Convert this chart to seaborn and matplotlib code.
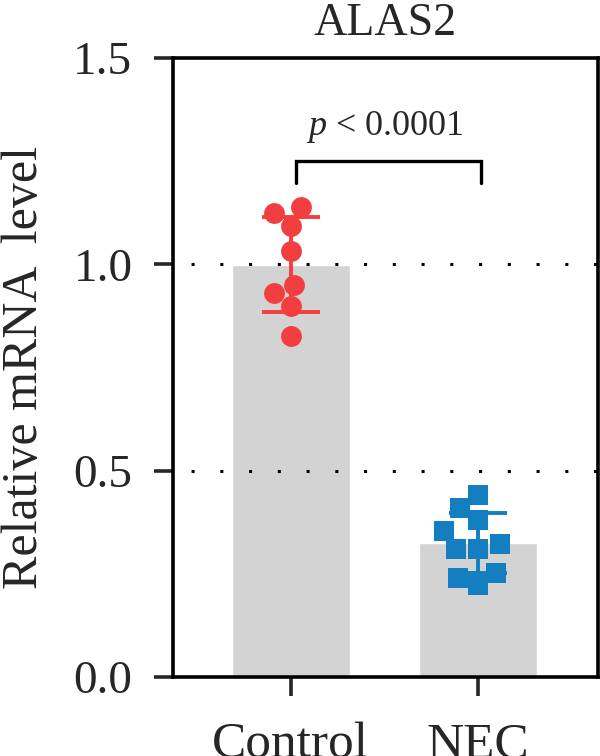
import matplotlib
matplotlib.use("Agg")
import matplotlib.pyplot as plt
import seaborn as sns
import pandas as pd
import numpy as np

# ---- data ----
groups = ["Control", "NEC"]
control_values = [1.138, 1.093, 1.125, 1.032, 0.951, 0.931, 0.899, 0.826]
nec_values = [0.442, 0.409, 0.381, 0.353, 0.323, 0.311, 0.311, 0.252, 0.240, 0.223]
y_ticks = [0.0, 0.5, 1.0, 1.5]
y_tick_labels = ["0.0", "0.5", "1.0", "1.5"]
title_text = "ALAS2"
ylabel_text = "Relative mRNA  level"
p_text = r"$p$ < 0.0001"

colors = {"Control": "#F23E3E", "NEC": "#137EC0"}
markers = {"Control": "o", "NEC": "s"}

df = pd.DataFrame({
    "group": ["Control"] * len(control_values) + ["NEC"] * len(nec_values),
    "value": control_values + nec_values,
})

sns.set_style("ticks")
plt.rcParams["font.family"] = ["Liberation Serif", "DejaVu Serif"]
plt.rcParams["mathtext.fontset"] = "custom"
plt.rcParams["mathtext.it"] = "Liberation Serif:italic"
plt.rcParams["mathtext.rm"] = "Liberation Serif"
plt.rcParams["lines.scale_dashes"] = False

fig = plt.figure(figsize=(6, 7.56), dpi=100)
ax = fig.add_axes([0.289, 0.1045, 0.707, 0.8188])

# bars
sns.barplot(data=df, x="group", y="value", order=groups, errorbar=None,
            color="#D3D3D3", saturation=1, width=0.63, ax=ax, zorder=1)

# dotted reference lines
for yv in [0.5, 1.0]:
    ax.axhline(yv, color="black", lw=2.2, linestyle=(7.7, (2.2, 18.5)), zorder=1.5)

# points
for g in groups:
    sub = df[df["group"] == g]
    sns.swarmplot(data=sub, x="group", y="value", order=groups, color=colors[g],
                  marker=markers[g], size=15, linewidth=0, ax=ax, zorder=3)

# error bars (mean ± SD)
stats = df.groupby("group")["value"].agg(["mean", "std"]).reindex(groups)
for i, g in enumerate(groups):
    ax.errorbar(i, stats.loc[g, "mean"], yerr=stats.loc[g, "std"], fmt="none",
                ecolor=colors[g], elinewidth=2.8, capsize=21, capthick=2.8, zorder=4)

# significance bracket
ax.plot([0.03, 0.03, 1.015, 1.015], [1.197, 1.250, 1.250, 1.197], color="black",
        lw=2.4, solid_joinstyle="miter", zorder=5)
ax.text(0.5, 1.313, p_text, ha="center", va="baseline", fontsize=26)

ax.set_xlim(-0.625, 1.636)
ax.set_ylim(0, 1.5)
ax.set_yticks(y_ticks)
ax.set_yticklabels(y_tick_labels)
ax.set_xlabel("")
ax.set_ylabel(ylabel_text, fontsize=36)
ax.yaxis.set_label_coords(-0.35, 0.5)
ax.yaxis.label.set_va("center")
ax.set_title(title_text, fontsize=33, pad=16.5)

for s in ax.spines.values():
    s.set_visible(True)
    s.set_linewidth(2.6)
    s.set_color("black")

ax.tick_params(axis="y", direction="out", length=13.5, width=2.6, pad=16, labelsize=34)
ax.tick_params(axis="x", direction="out", length=13.5, width=2.6, pad=19, labelsize=37)

fig.savefig("out.png", dpi=100)
